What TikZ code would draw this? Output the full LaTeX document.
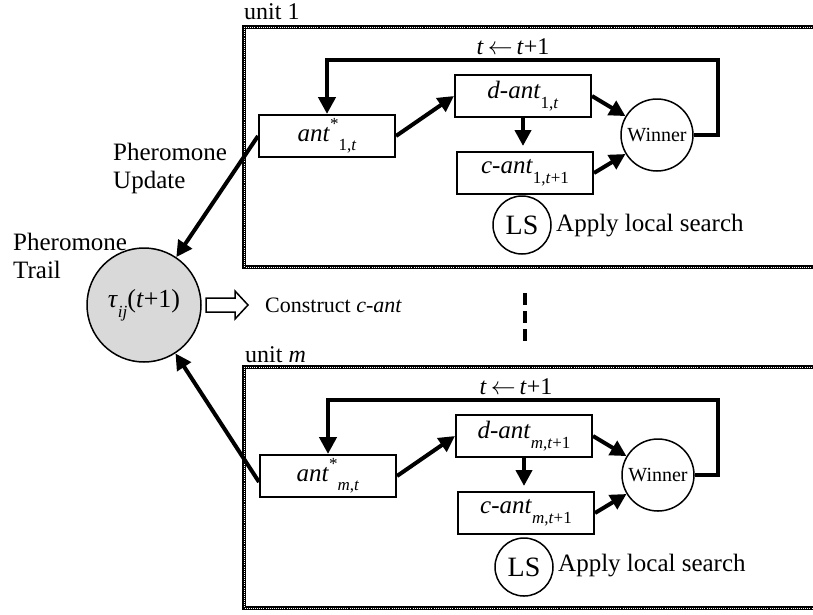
\documentclass[tikz,border=0pt]{standalone}
\usepackage{fontspec}
\setmainfont{Liberation Serif}
\usetikzlibrary{arrows.meta}
\newcommand\mysub[1]{\raisebox{-0.38em}{\fontsize{17}{17}\selectfont #1}}
\newcommand\mysup[1]{\raisebox{0.45em}{\fontsize{17}{17}\selectfont #1}}
\tikzset{
  antbox/.style={draw, line width=2pt, fill=white, minimum width=136pt, minimum height=42pt, inner sep=0pt, font=\fontsize{25}{26}\selectfont},
  wincirc/.style={draw, circle, line width=1.5pt, minimum size=72pt, inner sep=0pt, font=\fontsize{20}{20}\selectfont},
  lscirc/.style={draw, circle, line width=1.5pt, minimum size=58pt, inner sep=0pt, font=\fontsize{28}{28}\selectfont},
  arr/.style={line width=4pt, -{Triangle[length=16pt,width=16pt]}},
  loop/.style={line width=4.5pt, -{Triangle[length=17pt,width=17pt]}},
  frameline/.style={line width=3.5pt},
  framedots/.style={white, line width=0.5pt, dash pattern=on 0.5pt off 1.6pt},
  lbl/.style={inner sep=0pt, font=\fontsize{25}{28}\selectfont},
}
\begin{document}
\begin{tikzpicture}[x=1pt,y=-1pt]
\useasboundingbox (0,0) rectangle (813,614);
% ---------- unit frames ----------
\draw[frameline] (244,27) rectangle (840,267);
\draw[framedots] (244,27) rectangle (840,267);
\draw[frameline] (244,367) rectangle (840,608);
\draw[framedots] (244,367) rectangle (840,608);
\node[lbl, anchor=west, font=\fontsize{24}{26}\selectfont] (u1) at (244,12) {unit 1};
\node[lbl, anchor=west, font=\fontsize{24}{26}\selectfont] (um) at (245,355) {unit \textit{m}};

% ---------- pheromone ----------
\node[draw, circle, line width=1.5pt, fill=black!15, minimum size=114pt, inner sep=0pt,
      font=\fontsize{26}{26}\selectfont] (ph) at (144,305) {\textit{τ}\mysub{\textit{ij}}(\textit{t}+1)};
\node[lbl, anchor=west, align=left] (pt) at (13,256) {Pheromone\\Trail};
\node[lbl, anchor=west, align=left] (pu) at (113,168) {Pheromone\\Update};

% hollow arrow and construct label
\draw[line width=1.5pt, fill=white] (206,298) -- (235,298) -- (235,291) -- (248,305) -- (235,319) -- (235,312) -- (206,312) -- cycle;
\node[lbl, anchor=west, font=\fontsize{22}{24}\selectfont] (cc) at (265,305) {Construct \textit{c-ant}};

% dashed separator
\coordinate (ds1) at (525,293);
\coordinate (ds2) at (525,342);
\draw[line width=4.5pt, dash pattern=on 12pt off 6pt] (ds1) -- (ds2);

% ---------- unit 1 ----------
\node[antbox] (a1) at (327,136) {\textit{ant}\mysup{*}\mysub{1,\textit{t}}};
\node[antbox] (d1) at (523,96) {\textit{d-ant}\mysub{1,\textit{t}}};
\node[antbox] (c1) at (525,173) {\textit{c-ant}\mysub{1,\textit{t}+1}};
\node[wincirc] (w1) at (657,135) {Winner};
\node[lscirc] (ls1) at (522,225) {LS};
\node[lbl, anchor=west] (ap1) at (556,226) {Apply local search};
\coordinate (l1) at (718,60);
\draw[loop] (w1.east) -| (l1) -| (a1.north);
\node[font=\fontsize{24}{26}\selectfont, inner sep=0pt] (t1) at (513,47) {\textit{t}\,$\leftarrow$\,\textit{t}+1};
\draw[arr] (a1.east) -- (d1.west);
\draw[arr, shorten >=5pt] (d1.south) -- (d1.south |- c1.north);
\draw[arr] (d1.east) -- (w1);
\draw[arr] (c1.east) -- (w1);
\draw[arr] (a1.west) -- (ph);

% ---------- unit m ----------
\node[antbox] (a2) at (328,476) {\textit{ant}\mysup{*}\mysub{\textit{m},\textit{t}}};
\node[antbox] (d2) at (524,436) {\textit{d-ant}\mysub{\textit{m},\textit{t}+1}};
\node[antbox] (c2) at (526,513) {\textit{c-ant}\mysub{\textit{m},\textit{t}+1}};
\node[wincirc] (w2) at (658,475) {Winner};
\node[lscirc] (ls2) at (524,567) {LS};
\node[lbl, anchor=west] (ap2) at (558,566) {Apply local search};
\coordinate (l2) at (718,400);
\draw[loop] (w2.east) -| (l2) -| (a2.north);
\node[font=\fontsize{24}{26}\selectfont, inner sep=0pt] (t2) at (516,387) {\textit{t}\,$\leftarrow$\,\textit{t}+1};
\draw[arr] (a2.east) -- (d2.west);
\draw[arr, shorten >=5pt] (d2.south) -- (d2.south |- c2.north);
\draw[arr] (d2.east) -- (w2);
\draw[arr] (c2.east) -- (w2);
\draw[arr] ([yshift=-6pt]a2.west) -- (ph);
\end{tikzpicture}
\end{document}
